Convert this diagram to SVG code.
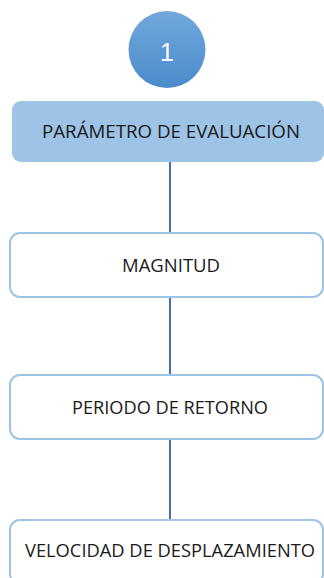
<svg xmlns="http://www.w3.org/2000/svg" width="324" height="578" viewBox="0 0 324 578">
<defs>
<linearGradient id="cg" x1="0" y1="0" x2="0" y2="1">
<stop offset="0" stop-color="#72A8DD"/>
<stop offset="1" stop-color="#4A8BCB"/>
</linearGradient>
<style>
.lbl{font-family:"Open Sans","Liberation Sans",Arial,sans-serif;font-size:18px;fill:#1a1a1a;text-anchor:middle}
.wbox{fill:#ffffff;stroke:#9DC3E6;stroke-width:2}
.conn{stroke:#41719C;stroke-width:2;fill:none}
</style>
</defs>
<rect width="324" height="578" fill="#ffffff"/>
<g id="connectors">
<line class="conn" x1="170" y1="162" x2="170" y2="233"/>
<line class="conn" x1="170" y1="297" x2="170" y2="375"/>
<line class="conn" x1="170" y1="439" x2="170" y2="520"/>
</g>
<g id="node-1">
<circle cx="167" cy="49.5" r="38.5" fill="url(#cg)"/>
<text x="167" y="61" font-family="Liberation Sans,Arial,sans-serif" font-size="25" fill="#ffffff" text-anchor="middle">1</text>
</g>
<g id="node-parametro">
<rect x="12" y="101" width="312" height="61" rx="9" fill="#9DC3E6"/>
<text class="lbl" x="171" y="138" textLength="258" lengthAdjust="spacingAndGlyphs">PARÁMETRO DE EVALUACIÓN</text>
</g>
<g id="node-magnitud">
<rect class="wbox" x="10" y="233" width="313" height="64" rx="10"/>
<text class="lbl" x="171" y="272" textLength="98" lengthAdjust="spacingAndGlyphs">MAGNITUD</text>
</g>
<g id="node-periodo">
<rect class="wbox" x="10" y="375" width="313" height="64" rx="10"/>
<text class="lbl" x="170" y="414" textLength="196" lengthAdjust="spacingAndGlyphs">PERIODO DE RETORNO</text>
</g>
<g id="node-velocidad">
<rect class="wbox" x="10" y="520" width="313" height="64" rx="10"/>
<text class="lbl" x="170" y="557" textLength="290" lengthAdjust="spacingAndGlyphs">VELOCIDAD DE DESPLAZAMIENTO</text>
</g>
</svg>
